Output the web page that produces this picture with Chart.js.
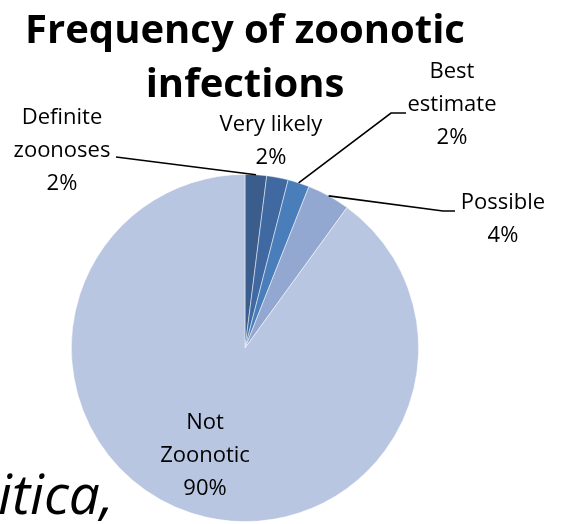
<!DOCTYPE html>
<html>
<head>
<meta charset="utf-8">
<script src="https://cdn.jsdelivr.net/npm/chart.js@4/dist/chart.umd.min.js"></script>
<style>
  html, body { margin: 0; padding: 0; background: #fff; }
  canvas { display: block; }
</style>
</head>
<body>
<canvas id="chart" width="562" height="524"></canvas>
<script>
const categories = ["Definite zoonoses", "Very likely", "Best estimate", "Possible", "Not Zoonotic"];
const shares = [2, 2, 2, 4, 90];
const sliceColors = ["#3a5d8c", "#4069a2", "#4a7ebb", "#93a8d1", "#b9c6e1"];

// how each label is broken and where it sits
const labelLines = [
  ["Definite", "zoonoses"],
  ["Very likely"],
  ["Best", "estimate"],
  ["Possible"],
  ["Not", "Zoonotic"]
];
const labelSpots = [
  { x: 62, y: 118, leader: [[116, 157]] },
  { x: 271, y: 125 },
  { x: 452, y: 72, leader: [[406, 113], [391, 113]] },
  { x: 503, y: 203, leader: [[455, 211], [443, 211]] },
  { x: 205, y: 423 }
];

const calloutPlugin = {
  id: "callouts",
  afterDraw(chart) {
    const ctx = chart.ctx;
    const arcs = chart.getDatasetMeta(0).data;
    ctx.save();

    // title
    ctx.fillStyle = "#000";
    ctx.textAlign = "center";
    ctx.textBaseline = "middle";
    ctx.font = "bold 40px 'Open Sans'";
    ctx.fillText("Frequency of zoonotic", 245, 32);
    ctx.fillText("infections", 245, 86);

    // leader lines
    ctx.strokeStyle = "#000";
    ctx.lineWidth = 1.6;
    arcs.forEach((arc, i) => {
      const spot = labelSpots[i];
      if (!spot.leader) return;
      const mid = (arc.startAngle + arc.endAngle) / 2;
      const ex = arc.x + Math.cos(mid) * arc.outerRadius;
      const ey = arc.y + Math.sin(mid) * arc.outerRadius;
      ctx.beginPath();
      ctx.moveTo(spot.leader[0][0], spot.leader[0][1]);
      spot.leader.slice(1).forEach(p => ctx.lineTo(p[0], p[1]));
      ctx.lineTo(ex, ey);
      ctx.stroke();
    });

    // labels
    ctx.font = "22px 'Open Sans'";
    const total = shares.reduce((a, b) => a + b, 0);
    arcs.forEach((arc, i) => {
      const spot = labelSpots[i];
      const lines = labelLines[i].concat([Math.round(shares[i] / total * 100) + "%"]);
      lines.forEach((t, k) => ctx.fillText(t, spot.x, spot.y + k * 33));
    });

    // text of the slide behind the chart
    ctx.textAlign = "left";
    ctx.textBaseline = "alphabetic";
    ctx.font = "italic 55px 'Open Sans'";
    ctx.fillText("itica,", -2, 514);

    ctx.restore();
  }
};

new Chart(document.getElementById("chart"), {
  type: "pie",
  data: {
    labels: categories,
    datasets: [{
      data: shares,
      backgroundColor: sliceColors,
      borderColor: "rgba(255,255,255,0.6)",
      borderWidth: 0.8
    }]
  },
  options: {
    responsive: false,
    animation: false,
    layout: { padding: { left: 71, right: 143, top: 174, bottom: 2 } },
    plugins: {
      legend: { display: false },
      tooltip: { enabled: false },
      title: { display: false }
    }
  },
  plugins: [calloutPlugin]
});
</script>
</body>
</html>
